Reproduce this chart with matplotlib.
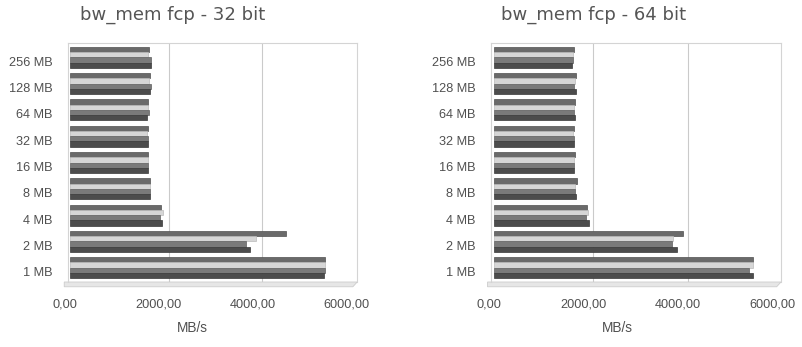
import matplotlib
matplotlib.use("Agg")
import matplotlib.pyplot as plt
import numpy as np
from matplotlib.transforms import ScaledTranslation
from matplotlib.patches import Polygon

# Block sizes, bottom to top
sizes = ["1 MB", "2 MB", "4 MB", "8 MB", "16 MB", "32 MB", "64 MB", "128 MB", "256 MB"]

# bw_mem fcp bandwidth (MB/s), four runs per block size (listed top to bottom in each group)
bw32_run1 = [5440, 4610, 1950, 1700, 1665, 1660, 1660, 1700, 1690]
bw32_run2 = [5440, 3970, 1980, 1700, 1665, 1645, 1670, 1690, 1660]
bw32_run3 = [5440, 3750, 1920, 1705, 1665, 1670, 1695, 1720, 1720]
bw32_run4 = [5420, 3835, 1970, 1705, 1665, 1670, 1640, 1700, 1720]

bw64_run1 = [5490, 4000, 1965, 1760, 1725, 1695, 1710, 1730, 1695]
bw64_run2 = [5480, 3800, 2000, 1710, 1695, 1680, 1695, 1710, 1675]
bw64_run3 = [5410, 3765, 1950, 1710, 1695, 1695, 1695, 1695, 1665]
bw64_run4 = [5490, 3870, 2005, 1730, 1695, 1695, 1715, 1735, 1655]

xticks = [0, 2000, 4000, 6000]
xticklabels = ["0,00", "2000,00", "4000,00", "6000,00"]

run_colors = ["#6a6a6a", "#d6d6d6", "#7a7a7a", "#4c4c4c"]
run_edges = ["#505050", "#bababa", "#606060", "#383838"]
offsets = [0.3, 0.1, -0.1, -0.3]
bar_h = 0.2

text_col = "#505050"
tick_font = ["Liberation Sans", "DejaVu Sans"]

fig = plt.figure(figsize=(8.02, 3.47), dpi=100)


def panel(rect, xlim, runs, title, title_x, label_x):
    ax = fig.add_axes(rect)
    y = np.arange(len(sizes))
    for run, off, fc, ec in zip(runs, offsets, run_colors, run_edges):
        ax.barh(y + off, run, height=bar_h, color=fc, edgecolor=ec,
                linewidth=0.5, zorder=3)
    ax.set_xlim(*xlim)
    ax.set_ylim(-0.55, len(sizes) - 0.45)

    # back-wall grid lines, shifted slightly right for the depth effect
    shift = ScaledTranslation(5 / 100, 0, fig.dpi_scale_trans)
    for gx in xticks[1:-1]:
        ax.plot([gx, gx], [0, 1], color="#cacaca", lw=0.8, zorder=1,
                transform=ax.get_xaxis_transform() + shift)

    ax.set_xticks(xticks)
    ax.set_xticklabels(xticklabels, family=tick_font, fontsize=9.2, color=text_col)
    ax.set_yticks(y)
    ax.set_yticklabels(sizes, family=tick_font, fontsize=9.2, color=text_col)
    ax.tick_params(axis="x", length=0, pad=12)
    ax.tick_params(axis="y", length=0, pad=11)
    xshift = ScaledTranslation(-5 / 100, 0, fig.dpi_scale_trans)
    for lab in ax.get_xticklabels():
        lab.set_transform(lab.get_transform() + xshift)
    yshift = ScaledTranslation(0, -4 / 100, fig.dpi_scale_trans)
    for lab in ax.get_yticklabels():
        lab.set_transform(lab.get_transform() + yshift)

    for side in ("left", "top", "right"):
        ax.spines[side].set_color("#d4d4d4")
        ax.spines[side].set_linewidth(0.8)
    ax.spines["bottom"].set_visible(False)

    # floor of the pseudo-3D plot
    floor = Polygon([(-0.012, 0.0), (1.0, 0.0), (0.985, -0.02), (-0.012, -0.02)],
                    closed=True, transform=ax.transAxes, clip_on=False,
                    facecolor="#e6e6e6", edgecolor="#cccccc", lw=0.6, zorder=2)
    ax.add_patch(floor)

    fig.text(title_x, 1 - 15 / 347, title, ha="center", va="center",
             fontsize=13, color="#555555", family="DejaVu Sans")
    fig.text(label_x, 1 - 328 / 347, "MB/s", ha="center", va="center",
             fontsize=9.8, color=text_col, family=tick_font)
    return ax


panel([67.7 / 802, 65 / 347, 289.5 / 802, 239 / 347], (-50, 6130),
      [bw32_run1, bw32_run2, bw32_run3, bw32_run4],
      "bw_mem fcp - 32 bit", 172.5 / 802, 192 / 802)
panel([491 / 802, 65 / 347, 290 / 802, 239 / 347], (-64, 6081),
      [bw64_run1, bw64_run2, bw64_run3, bw64_run4],
      "bw_mem fcp - 64 bit", 594 / 802, 617 / 802)

fig.savefig("out.png", dpi=100, facecolor="white")
